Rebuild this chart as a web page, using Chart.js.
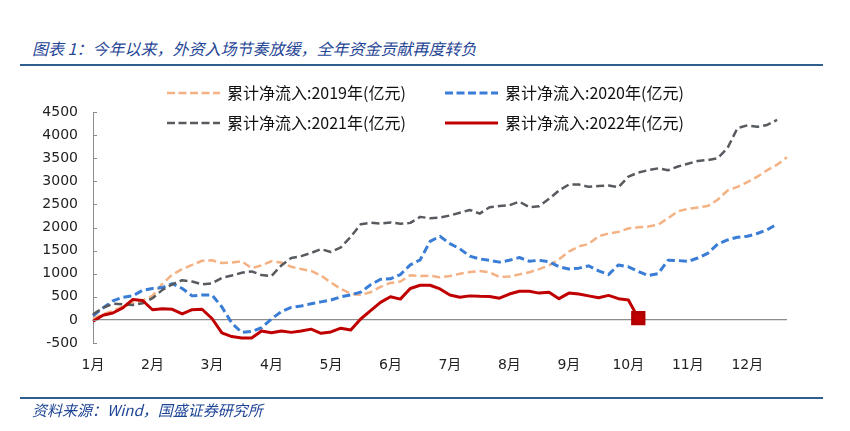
<!DOCTYPE html>
<html>
<head>
<meta charset="utf-8">
<script src="https://cdn.jsdelivr.net/npm/chart.js@4"></script>
<style>
html,body{margin:0;padding:0;background:#fff;}
#wrap{position:relative;width:850px;height:431px;overflow:hidden;background:#fff;}
#title{position:absolute;left:32px;top:38px;font:italic 16px "Noto Sans CJK SC";line-height:20px;color:#1F4596;white-space:nowrap;}
.rule{position:absolute;left:20px;width:803px;height:2px;background:#2F5F90;}
#foot{position:absolute;left:32px;top:400px;font:italic 15px "Noto Sans CJK SC";line-height:20px;color:#1F4596;white-space:nowrap;}
#c{position:absolute;left:0;top:0;}
</style>
</head>
<body>
<div id="wrap">
  <div id="title">图表 1：今年以来，外资入场节奏放缓，全年资金贡献再度转负</div>
  <div class="rule" style="top:64px"></div>
  <canvas id="c" width="850" height="431"></canvas>
  <div class="rule" style="top:397px"></div>
  <div id="foot">资料来源：Wind，国盛证券研究所</div>
</div>
<script>
// ---- data (~6 points per month) ----
const monthLabels = ['1月','2月','3月','4月','5月','6月','7月','8月','9月','10月','11月','12月'];
const pointsPerMonth = 6;
const pointCount = 71;

const seriesNames = [
  '累计净流入:2019年(亿元)',
  '累计净流入:2020年(亿元)',
  '累计净流入:2021年(亿元)',
  '累计净流入:2022年(亿元)'
];

const flow2019 = [30,120,200,280,360,420,520,780,980,1100,
  1190,1280,1290,1230,1240,1270,1120,1180,1270,1240,
  1150,1100,1060,960,810,670,565,540,600,715,
  800,830,965,950,960,920,950,1000,1035,1060,
  1030,930,940,985,1030,1100,1180,1310,1480,1590,
  1645,1810,1870,1905,1980,2005,2020,2060,2200,2350,
  2405,2435,2465,2600,2800,2880,2980,3100,3240,3360,
  3520];

const flow2020 = [90,260,410,490,520,640,680,700,785,680,
  520,540,540,280,-70,-270,-250,-170,20,180,
  270,300,350,390,430,500,540,600,760,880,
  890,980,1190,1300,1700,1810,1650,1540,1380,1320,
  1290,1250,1290,1350,1270,1290,1260,1150,1100,1120,
  1170,1060,980,1190,1150,1050,960,1000,1290,1285,
  1265,1340,1440,1640,1730,1790,1810,1870,1950,2075,
  null];

const flow2021 = [120,260,350,340,320,360,470,650,770,860,
  830,770,790,910,960,1020,1050,970,950,1180,
  1340,1380,1450,1530,1470,1570,1800,2070,2105,2085,
  2110,2080,2100,2230,2200,2215,2260,2320,2380,2300,
  2440,2465,2480,2560,2440,2460,2620,2800,2930,2930,
  2880,2900,2910,2870,3100,3190,3240,3280,3240,3320,
  3380,3440,3460,3500,3720,4150,4210,4180,4220,4330,
  null];

const flow2022 = [-30,100,150,260,440,420,220,240,230,130,
  220,230,30,-280,-360,-390,-390,-240,-280,-240,
  -270,-240,-200,-290,-260,-180,-220,20,200,380,
  500,450,680,750,750,670,540,490,520,510,
  505,470,560,620,620,580,600,460,580,560,
  520,480,530,460,430,40,null,null,null,null,
  null,null,null,null,null,null,null,null,null,null,
  null];

const yTicks = {min: -500, max: 4500, step: 500};

// ---- build category labels from month labels ----
const categories = Array.from({length: pointCount}, (_, i) =>
  i % pointsPerMonth === 0 ? (monthLabels[i / pointsPerMonth] || '') : '');
let lastRed = flow2022.length - 1;
while (lastRed > 0 && flow2022[lastRed] === null) lastRed--;

const legendSlots = [[167, 93], [445, 93], [167, 123], [445, 123]];
const legendPlugin = {
  id: 'fixedLegend',
  afterDraw(chart) {
    const ctx = chart.ctx;
    chart.data.datasets.forEach((ds, i) => {
      const [x, y] = legendSlots[i];
      ctx.save();
      ctx.strokeStyle = ds.borderColor;
      ctx.lineWidth = ds.borderWidth;
      ctx.lineCap = 'butt';
      ctx.setLineDash(ds.borderDash ? [8, 3.5] : []);
      ctx.beginPath();
      ctx.moveTo(x, y);
      ctx.lineTo(x + 53, y);
      ctx.stroke();
      ctx.setLineDash([]);
      ctx.fillStyle = '#111';
      ctx.font = '16px "Noto Sans CJK SC"';
      ctx.textBaseline = 'middle';
      ctx.textAlign = 'left';
      ctx.fillText(ds.label, x + 60, y);
      ctx.restore();
    });
  }
};
const innerTicks = {
  id: 'innerTicks',
  afterDraw(chart) {
    const y = chart.scales.y, ctx = chart.ctx, left = chart.chartArea.left;
    ctx.save();
    ctx.strokeStyle = '#8c8c8c';
    ctx.lineWidth = 1;
    y.ticks.forEach(t => {
      const py = Math.round(y.getPixelForValue(t.value)) + 0.5;
      ctx.beginPath();
      ctx.moveTo(left, py);
      ctx.lineTo(left + 4, py);
      ctx.stroke();
    });
    ctx.restore();
  }
};

const tickFont = {family: '"DejaVu Sans","Noto Sans CJK SC"', size: 14};

new Chart(document.getElementById('c'), {
  type: 'line',
  data: {
    labels: categories,
    datasets: [
      {label: seriesNames[0], data: flow2019, borderColor: '#F4B183', borderDash: [8, 4], borderWidth: 2.5, order: 3},
      {label: seriesNames[1], data: flow2020, borderColor: '#3A7DD6', borderDash: [8, 4], borderWidth: 3, order: 2},
      {label: seriesNames[2], data: flow2021, borderColor: '#575A5F', borderDash: [8, 4], borderWidth: 2.5, order: 1},
      {label: seriesNames[3], data: flow2022, borderColor: '#C00000', borderWidth: 3, order: 0,
       pointStyle: 'rect', pointBackgroundColor: '#C00000', pointBorderColor: '#B00000',
       pointRadius: c => c.dataIndex === lastRed ? 8 : 0}
    ]
  },
  options: {
    responsive: false,
    animation: false,
    devicePixelRatio: 1,
    layout: {padding: {left: 0, right: 63, top: 112, bottom: 48}},
    plugins: {legend: {display: false}, tooltip: {enabled: false}},
    elements: {line: {tension: 0, borderCapStyle: 'butt', borderJoinStyle: 'round'}, point: {radius: 0, hoverRadius: 0}},
    scales: {
      x: {
        type: 'category',
        offset: false,
        grid: {display: false, drawTicks: false},
        border: {display: false},
        ticks: {autoSkip: false, maxRotation: 0, minRotation: 0, padding: 14, color: '#222', font: tickFont},
        afterFit: s => { s.height = 40; }
      },
      y: {
        min: yTicks.min, max: yTicks.max,
        ticks: {stepSize: yTicks.step, padding: 15, color: '#222', font: tickFont,
                callback: v => String(v)},
        grid: {drawTicks: false, color: c => (c.tick && c.tick.value === 0) ? '#8c8c8c' : 'rgba(0,0,0,0)', lineWidth: 1.2},
        border: {display: true, color: '#8c8c8c', width: 1},
        afterFit: s => { s.width = 93; }
      }
    }
  },
  plugins: [legendPlugin, innerTicks]
});
</script>
</body>
</html>
